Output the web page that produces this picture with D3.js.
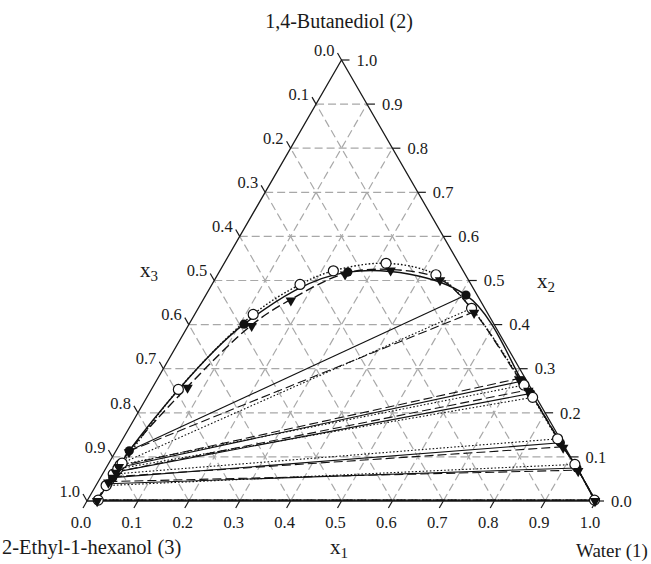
<!DOCTYPE html>
<html>
<head>
<meta charset="utf-8">
<script src="https://d3js.org/d3.v7.min.js"></script>
<style>
  html, body { margin: 0; padding: 0; background: #fff; }
  svg { display: block; }
  text { font-family: "Liberation Serif", "Times New Roman", serif; fill: #1a1a1a; }
</style>
</head>
<body>
<svg id="chart" width="651" height="564"></svg>
<script>
// Ternary LLE diagram: water (1) + 1,4-butanediol (2) + 2-ethyl-1-hexanol (3)
// Compositions are mole fractions [x1, x2]; x3 = 1 - x1 - x2.

const tickValues = [0.0, 0.1, 0.2, 0.3, 0.4, 0.5, 0.6, 0.7, 0.8, 0.9, 1.0];
const gridValues = [0.1, 0.2, 0.3, 0.4, 0.5, 0.6, 0.7, 0.8, 0.9];

const vertexLabels = ["Water (1)", "1,4-Butanediol (2)", "2-Ethyl-1-hexanol (3)"];
const axisNames = ["x", "x", "x"];
const axisIndex = ["1", "2", "3"];

// Experimental tie lines (solid, filled circles): organic phase / aqueous phase
const expOrganic = [[0.020, 0.002], [0.022, 0.039], [0.024, 0.053], [0.025, 0.066], [0.025, 0.076], [0.026, 0.114]];
const expAqueous = [[0.996, 0.002], [0.925, 0.075], [0.864, 0.132], [0.750, 0.244], [0.719, 0.272], [0.511, 0.467]];
const expBinodal = [[0.108, 0.401], [0.253, 0.519]];

// NRTL correlation (dotted, open circles)
const nrtlOrganic = [[0.021, 0.002], [0.020, 0.035], [0.021, 0.061], [0.024, 0.073], [0.024, 0.082], [0.026, 0.086]];
const nrtlAqueous = [[0.996, 0.002], [0.917, 0.083], [0.854, 0.141], [0.758, 0.235], [0.727, 0.263], [0.537, 0.437]];
const nrtlBinodal = [[0.053, 0.253], [0.115, 0.423], [0.173, 0.491], [0.223, 0.522], [0.318, 0.539], [0.429, 0.513]];

// UNIQUAC correlation (dashed, filled down-triangles)
const uniqOrganic = [[0.019, 0.002], [0.020, 0.044], [0.024, 0.055], [0.024, 0.066], [0.023, 0.079], [0.026, 0.113]];
const uniqAqueous = [[0.997, 0.002], [0.930, 0.070], [0.874, 0.123], [0.741, 0.252], [0.710, 0.278], [0.546, 0.429]];
const uniqBinodal = [[0.068, 0.259], [0.124, 0.399], [0.172, 0.457], [0.249, 0.516], [0.334, 0.525], [0.442, 0.503]];

const svg = d3.select("#chart");

// Cartesian projection of the ternary plane
const sx = d3.scaleLinear().domain([0, 1]).range([87, 596]);
const sy = d3.scaleLinear().domain([0, 1]).range([501, 60]);
const px = d => sx(d[0] + d[1] / 2);
const py = d => sy(d[1]);
const pt = d => [px(d), py(d)];

// grid (dashed gray) in three directions
const grid = svg.append("g").attr("stroke", "#a8a8a8").attr("stroke-width", 1.2)
  .attr("stroke-dasharray", "8,4").attr("fill", "none");
gridValues.forEach(k => {
  const segs = [
    [[0, k], [1 - k, k]],          // constant x2
    [[k, 0], [k, 1 - k]],          // constant x1
    [[1 - k, 0], [0, 1 - k]]       // constant x3
  ];
  segs.forEach(s => grid.append("line")
    .attr("x1", px(s[0])).attr("y1", py(s[0]))
    .attr("x2", px(s[1])).attr("y2", py(s[1])));
});

// triangle outline
const corners = [[0, 0], [1, 0], [0, 1]];
svg.append("path")
  .attr("d", d3.line()(corners.map(pt)) + "Z")
  .attr("fill", "none").attr("stroke", "#1a1a1a").attr("stroke-width", 1.3);

// ticks and tick labels
const ticks = svg.append("g").attr("stroke", "#1a1a1a").attr("stroke-width", 1.2);
const labels = svg.append("g").attr("font-size", "16.5px");
const tl = 8, c = 0.5, s = Math.sqrt(3) / 2;
tickValues.forEach(v => {
  const txt = v.toFixed(1);
  // bottom axis: x1
  let p = [0 + v, 0];
  let X = px(p), Y = py(p);
  ticks.append("line").attr("x1", X).attr("y1", Y).attr("x2", X - tl * c).attr("y2", Y + tl * s);
  labels.append("text").attr("x", X - 6).attr("y", 528).attr("text-anchor", "middle").text(txt);
  // right axis: x2
  p = [1 - v, v];
  X = px(p); Y = py(p);
  ticks.append("line").attr("x1", X).attr("y1", Y).attr("x2", X + tl).attr("y2", Y);
  labels.append("text").attr("x", X + 15).attr("y", Y).attr("dy", "0.35em").text(txt);
  // left axis: x3
  p = [0, 1 - v];
  X = px(p); Y = py(p);
  ticks.append("line").attr("x1", X).attr("y1", Y).attr("x2", X - tl * c).attr("y2", Y - tl * s);
  labels.append("text").attr("x", X - 7).attr("y", Y - 10).attr("dy", "0.35em")
    .attr("text-anchor", "end").text(txt);
});

// vertex names
svg.append("text").attr("x", 339).attr("y", 28).attr("font-size", "20px")
  .attr("text-anchor", "middle").text(vertexLabels[1]);
svg.append("text").attr("x", 2).attr("y", 554).attr("font-size", "20.5px").text(vertexLabels[2]);
svg.append("text").attr("x", 576).attr("y", 557).attr("font-size", "19px").text(vertexLabels[0]);

// axis titles with subscripts
function axisTitle(x, y, i) {
  const t = svg.append("text").attr("x", x).attr("y", y).attr("font-size", "21px");
  t.append("tspan").text(axisNames[i]);
  t.append("tspan").attr("font-size", "15px").attr("dy", 4).text(axisIndex[i]);
}
axisTitle(330, 554, 0);
axisTitle(537, 288, 1);
axisTitle(140, 277, 2);

// series: tie lines + binodal curve + markers
const series = [
  { org: expOrganic, aq: expAqueous, bin: expBinodal, dash: null, mark: "fill" },
  { org: nrtlOrganic, aq: nrtlAqueous, bin: nrtlBinodal, dash: "1.6,2", mark: "open" },
  { org: uniqOrganic, aq: uniqAqueous, bin: uniqBinodal, dash: "9,4", mark: "tri" }
];

const curve = d3.line().curve(d3.curveCatmullRom.alpha(0.5));
const lines = svg.append("g").attr("fill", "none").attr("stroke", "#111");

series.forEach(sr => {
  sr.org.forEach((o, i) => {
    lines.append("line")
      .attr("x1", px(o)).attr("y1", py(o))
      .attr("x2", px(sr.aq[i])).attr("y2", py(sr.aq[i]))
      .attr("stroke-width", 1.1)
      .attr("stroke-dasharray", sr.dash);
  });
  const path = sr.org.concat(sr.bin, sr.aq.slice().reverse());
  lines.append("path").attr("d", curve(path.map(pt)))
    .attr("stroke-width", 1.4)
    .attr("stroke-dasharray", sr.dash);
});

const marks = svg.append("g");
const triSym = d3.symbol().type(d3.symbolTriangle).size(48);
series.forEach(sr => {
  const pts = sr.org.concat(sr.bin, sr.aq);
  pts.forEach(d => {
    if (sr.mark === "fill") {
      marks.append("circle").attr("cx", px(d)).attr("cy", py(d)).attr("r", 4.6).attr("fill", "#111");
    } else if (sr.mark === "open") {
      marks.append("circle").attr("cx", px(d)).attr("cy", py(d)).attr("r", 5)
        .attr("fill", "#fff").attr("stroke", "#111").attr("stroke-width", 1.2);
    } else {
      marks.append("path").attr("d", triSym())
        .attr("transform", `translate(${px(d)},${py(d) + 1}) rotate(180)`)
        .attr("fill", "#111");
    }
  });
});
</script>
</body>
</html>
